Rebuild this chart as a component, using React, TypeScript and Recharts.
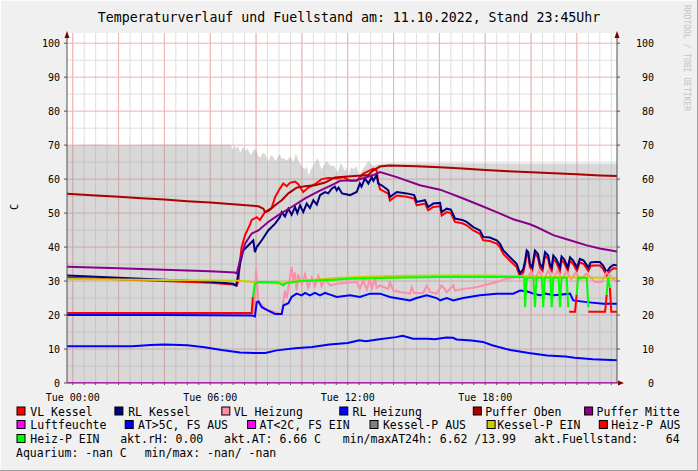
import React from 'react';
import { ComposedChart, Line, Area, XAxis, YAxis, CartesianGrid } from 'recharts';

type P = [number, number | null];

// ---- time axis (hours of the day) ----
const xDomain: [number, number] = [-0.25, 23.75];
const xLabels: Record<number, string> = { 0: 'Tue 00:00', 6: 'Tue 06:00', 12: 'Tue 12:00', 18: 'Tue 18:00' };
const yTicks = [0, 10, 20, 30, 40, 50, 60, 70, 80, 90, 100];
const minorX = Array.from({ length: 48 }, (_, i) => i * 0.5);
const majorX = Array.from({ length: 12 }, (_, i) => i * 2);
const minorY = [5, 15, 25, 35, 45, 55, 65, 75, 85, 95];

// ---- series ----
const fuellstand: P[] = [
  [-0.25, 70.0], [1, 70.2], [2, 70.0], [3, 70.1], [4, 70.2], [5, 70.2], [6, 70.1], [6.9, 70.1], [6.99, 68.6],
  [7.07, 70.0], [7.15, 69.0], [7.23, 69.8], [7.31, 67.6], [7.39, 69.0], [7.47, 69.5], [7.55, 68.2], [7.62, 69.1],
  [7.7, 68.0], [7.78, 67.2], [7.9, 68.8], [8.01, 68.4], [8.09, 67.0], [8.17, 66.2], [8.29, 67.8], [8.41, 67.2],
  [8.49, 66.0], [8.56, 65.3], [8.64, 67.0], [8.72, 66.7], [8.8, 65.8], [8.88, 65.3], [8.96, 66.8], [9.04, 67.2],
  [9.12, 66.0], [9.19, 66.2], [9.35, 65.5], [9.51, 66.7], [9.62, 65.0], [9.74, 67.5], [9.82, 66.0], [9.9, 64.8],
  [10.02, 63.5], [10.14, 62.9], [10.22, 63.8], [10.29, 61.0], [10.37, 62.5], [10.45, 63.4], [10.57, 65.0],
  [10.69, 66.2], [10.77, 64.5], [10.85, 62.9], [10.96, 64.0], [11.08, 65.3], [11.24, 64.0], [11.4, 63.9],
  [11.55, 62.0], [11.71, 64.8], [11.87, 62.4], [11.96, 63.5], [12.0, 61.0], [12.02, 45.0], [12.04, 61.0],
  [12.14, 63.5], [12.26, 62.9], [12.38, 63.8], [12.5, 61.0], [12.65, 63.0], [12.81, 64.3], [12.89, 65.3],
  [13.0, 64.5], [13.12, 63.9], [13.28, 64.3], [13.6, 64.6], [16, 64.7], [20, 64.6], [23.75, 64.6],
];

const vlKessel: P[] = [
  [-0.25, 31.0], [2, 30.5], [4, 30.0], [6, 29.5], [7.0, 29.0], [7.16, 28.6], [7.23, 30], [7.3, 36], [7.37, 40],
  [7.52, 43.5], [7.73, 46.5], [7.81, 48.0], [8.03, 48.8], [8.17, 48.0], [8.39, 50.3], [8.68, 51.5], [8.83, 54.7],
  [9.04, 57.2], [9.19, 58.7], [9.34, 57.9], [9.48, 58.9], [9.7, 59.3], [9.84, 58.5], [10.06, 56.2], [10.28, 57.5],
  [10.57, 58.5], [10.86, 60.0], [11.15, 60.3], [11.52, 60.2], [11.81, 60.6], [12.1, 59.5], [12.39, 59.5], [12.53, 60.6],
  [12.68, 61.6], [12.97, 62.6], [13.12, 63.1], [13.26, 62.6], [13.33, 59.2], [13.41, 57.0], [13.77, 55.7], [13.84, 53.7],
  [14.14, 55.2], [14.57, 54.8], [14.9, 54.3], [15.01, 52.3], [15.37, 52.8], [15.51, 50.8], [15.73, 51.8], [16.03, 52.0],
  [16.1, 49.3], [16.32, 50.3], [16.5, 50.0], [16.68, 47.4], [17.0, 47.0], [17.19, 46.4], [17.48, 44.9], [17.77, 43.9],
  [17.91, 42.0], [18.2, 41.8], [18.5, 41.0], [18.64, 40.0], [18.79, 38.0], [19.08, 36.0], [19.37, 34.1], [19.52, 31.2],
  [19.66, 32.5], [19.74, 35], [19.81, 38], [19.88, 37.5], [19.95, 34.1], [20.05, 33], [20.17, 38], [20.3, 37],
  [20.39, 34], [20.5, 33], [20.61, 37.5], [20.75, 36.5], [20.82, 34], [20.9, 33], [20.97, 36.5], [21.1, 35.5],
  [21.26, 33], [21.33, 36.2], [21.45, 35.3], [21.6, 33], [21.7, 36], [21.84, 35], [22.0, 33], [22.13, 35.5],
  [22.3, 35], [22.5, 33], [22.6, 34.5], [22.8, 34.6], [23.0, 34.6], [23.15, 33.5], [23.3, 31.6], [23.44, 33],
  [23.6, 33.8], [23.75, 33.6],
];

const rlKessel: P[] = [
  [-0.25, 31.6], [2, 31.0], [4, 30.4], [6, 29.8], [7.0, 29.2], [7.12, 28.7], [7.16, 29.7], [7.3, 35.1], [7.44, 39.0],
  [7.73, 41.0], [7.88, 42.0], [7.95, 38.5], [8.03, 40.0], [8.25, 42.0], [8.53, 44.9], [8.83, 46.9], [9.04, 48.8],
  [9.12, 50.3], [9.26, 49.0], [9.41, 51.3], [9.55, 49.5], [9.7, 51.8], [9.8, 50.0], [9.92, 52.3], [10.06, 50.3],
  [10.21, 52.8], [10.35, 51.5], [10.5, 53.8], [10.65, 52.5], [10.79, 55.3], [11.01, 56.2], [11.15, 55.8], [11.3, 57.2],
  [11.44, 57.8], [11.52, 56.7], [11.6, 57.5], [11.75, 55.8], [12.1, 55.3], [12.39, 56.2], [12.53, 58.7], [12.6, 57.8],
  [12.75, 60.2], [12.9, 58.7], [13.05, 60.6], [13.12, 59.5], [13.26, 61.2], [13.33, 58.7], [13.48, 58.2], [13.77, 56.7],
  [13.84, 54.7], [14.14, 56.2], [14.57, 55.8], [14.9, 55.3], [15.01, 53.3], [15.37, 53.8], [15.51, 51.8], [15.73, 52.8],
  [16.03, 53.0], [16.1, 50.3], [16.32, 51.3], [16.5, 51.0], [16.68, 48.4], [17.0, 48.0], [17.19, 47.4], [17.48, 45.9],
  [17.77, 44.9], [17.91, 43.0], [18.2, 42.8], [18.5, 42.0], [18.64, 41.0], [18.79, 39.0], [19.08, 37.0], [19.37, 35.1],
  [19.52, 32.2], [19.66, 33.5], [19.74, 36], [19.81, 39], [19.88, 38.5], [19.95, 35.1], [20.05, 34], [20.17, 39],
  [20.3, 38], [20.39, 35], [20.5, 34], [20.61, 38.5], [20.75, 37.5], [20.82, 35], [20.9, 34], [20.97, 37.5],
  [21.1, 36.5], [21.26, 34], [21.33, 37.2], [21.45, 36.3], [21.6, 34], [21.7, 37], [21.84, 36], [22.0, 34],
  [22.13, 36.5], [22.3, 36], [22.5, 34], [22.6, 35.5], [22.8, 35.6], [23.0, 35.6], [23.15, 34.5], [23.3, 32.6],
  [23.44, 34], [23.6, 34.8], [23.75, 34.6],
];

const vlHeizung: P[] = [
  [-0.25, 20.3], [7.9, 20.3], [7.95, 25], [8.0, 33.6], [8.1, 24.3], [8.39, 21.8], [8.83, 20.8], [9.12, 20.3],
  [9.26, 27.2], [9.34, 25], [9.55, 34.1], [9.62, 30], [9.7, 32.5], [9.77, 27.2], [9.84, 32], [10.0, 29], [10.14, 32],
  [10.28, 28], [10.43, 31], [10.57, 28.5], [10.72, 31.5], [10.86, 28.5], [11.01, 30.5], [11.23, 28.7], [11.52, 29.2],
  [11.95, 29.5], [12.39, 29.7], [12.53, 27.7], [12.68, 30.2], [12.83, 27.5], [12.97, 30.5], [13.05, 27.8],
  [13.19, 30.7], [13.26, 28], [13.41, 28.7], [13.77, 27.7], [13.84, 29.7], [13.99, 27.2], [14.28, 26.8], [14.72, 26.3],
  [14.79, 28.2], [14.9, 26.5], [15.3, 26.5], [15.45, 28.7], [15.6, 26.8], [15.88, 26.3], [16.1, 28.7], [16.25, 27.5],
  [16.32, 26.7], [16.61, 28.7], [16.68, 27.2], [17.04, 27.7], [17.48, 28.0], [17.91, 28.7], [18.5, 29.7], [18.94, 30.7],
  [19.37, 31.2], [19.66, 31.7], [19.81, 30.0], [20.0, 33.0], [20.17, 30.5], [20.35, 33.0], [20.55, 30.5], [20.75, 33.0],
  [20.95, 30.5], [21.15, 33.0], [21.35, 30.5], [21.55, 32.8], [21.75, 30.5], [21.95, 32.5], [22.15, 30.5], [22.43, 32.2],
  [22.79, 29.7], [23.08, 29.7], [23.3, 32.6], [23.5, 31.0], [23.75, 29.7],
];

const rlHeizung: P[] = [
  [-0.25, 20.0], [4, 20.0], [7.8, 19.9], [7.95, 19.6], [8.03, 23.8], [8.1, 24.0], [8.25, 22.3], [8.53, 21.3],
  [8.83, 20.3], [9.12, 20.3], [9.19, 22.8], [9.41, 23.5], [9.55, 25.3], [9.77, 26.3], [9.99, 25.8], [10.14, 26.5],
  [10.35, 25.8], [10.57, 26.5], [10.79, 25.8], [11.01, 26.5], [11.23, 26.0], [11.52, 25.3], [12.1, 25.8],
  [12.53, 25.3], [12.97, 26.3], [13.41, 26.3], [13.84, 25.3], [14.28, 24.8], [14.72, 24.3], [15.0, 25.0],
  [15.45, 25.8], [15.88, 25.0], [16.03, 24.3], [16.32, 25.0], [16.61, 24.3], [17.04, 25.0], [17.77, 25.8],
  [18.5, 26.3], [19.22, 26.3], [19.52, 27.2], [19.81, 27.0], [20.1, 26.3], [20.39, 25.8], [20.61, 26.3],
  [21.0, 25.8], [21.7, 26.3], [21.84, 24.3], [22.43, 23.8], [23.15, 23.3], [23.75, 23.3],
];

const pufferOben: P[] = [
  [-0.25, 55.7], [1, 55.2], [2, 54.8], [3, 54.4], [4, 54.0], [5, 53.5], [6, 53.1], [7, 52.6], [8.1, 52.0],
  [8.32, 51.3], [8.39, 50.3], [8.53, 50.6], [8.83, 52.3], [9.12, 53.8], [9.41, 55.8], [9.77, 57.5], [10.14, 57.9],
  [10.57, 58.2], [11.01, 59.0], [11.44, 60.5], [12.0, 60.8], [12.9, 61.2], [13.1, 62.5], [13.4, 63.7], [13.8, 64.0],
  [15, 63.8], [16, 63.5], [17, 63.1], [18, 62.7], [19, 62.3], [20, 62.0], [21, 61.7], [22, 61.4], [23, 61.1],
  [23.75, 60.9],
];

const pufferMitte: P[] = [
  [-0.25, 34.2], [2, 33.8], [4, 33.3], [6, 32.9], [7.08, 32.5], [7.16, 32.2], [7.3, 36.1], [7.52, 41.0], [7.81, 44.0],
  [8.1, 44.9], [8.53, 47.4], [8.97, 49.4], [9.55, 51.8], [10.14, 54.3], [10.72, 56.4], [11.44, 58.7], [11.66, 59.5],
  [12.39, 59.7], [13.12, 61.2], [13.41, 62.1], [14.14, 60.6], [15.15, 58.2], [16.03, 56.9], [16.46, 55.8],
  [17.04, 54.3], [17.77, 52.3], [18.5, 50.3], [19.22, 48.2], [19.95, 46.7], [20.24, 45.9], [20.97, 43.5],
  [21.7, 42.0], [22.43, 40.5], [23.0, 39.6], [23.75, 38.7],
];

const luftfeuchte: P[] = [[-0.25, 0], [23.75, 0]];

const aussenTemp: P[] = [
  [-0.25, 10.8], [1.5, 10.8], [2.6, 10.8], [3.4, 11.2], [4.0, 11.3], [5, 11.1], [5.75, 10.5], [6.5, 9.7], [7.3, 9.0],
  [7.9, 8.8], [8.4, 8.8], [8.9, 9.6], [9.7, 10.2], [10.45, 10.6], [11.2, 11.3], [12.0, 11.8], [12.5, 12.6],
  [12.8, 12.3], [13.3, 12.8], [14.1, 13.5], [14.4, 13.9], [14.85, 13.0], [15.2, 13.0], [15.5, 13.0], [15.8, 12.9],
  [16.3, 13.4], [16.6, 13.3], [16.75, 12.8], [17.4, 12.5], [17.9, 12.1], [18.3, 11.1], [19.1, 9.7], [19.9, 8.8],
  [20.7, 8.1], [21.5, 7.8], [21.9, 7.4], [22.7, 7.0], [23.75, 6.7],
];

const kesselPEin: P[] = [
  [-0.25, 30.6], [3, 30.4], [6, 30.2], [7.3, 30.1], [7.81, 29.7], [8.5, 29.5], [9.12, 29.2], [9.5, 29.8],
  [10.5, 30.3], [11.44, 30.9], [12.5, 31.2], [14, 31.5], [16, 31.6], [18, 31.6], [19.5, 31.4], [21, 31.2],
  [23.75, 30.9],
];

const heizPAus: P[] = [
  [-0.25, 20.6], [7.81, 20.6], [7.86, 25.3], [7.9, null],
  [21.62, null], [21.66, 21.0], [21.92, 21.0], [21.99, 26.0], [22.02, null],
  [22.43, null], [22.5, 21.0], [23.23, 21.0], [23.3, 26.0], [23.33, null],
  [23.4, null], [23.44, 28.0], [23.5, 21.0], [23.75, 21.0],
];

const heizPEin: P[] = [
  [7.86, 25.3], [7.95, 29.2], [8.1, 29.7], [8.5, 29.7], [9.0, 29.6], [9.19, 28.7], [9.3, 29.4], [9.99, 30.0],
  [11.44, 30.4], [12, 30.7], [14, 31.0], [16, 31.2], [18, 31.2], [19.6, 31.2], [19.7, 31.0], [19.74, 22.3],
  [19.81, 31.0], [20.1, 31.0], [20.17, 22.3], [20.24, 31.0], [20.47, 31.0], [20.53, 22.3], [20.6, 31.0],
  [20.84, 31.0], [20.9, 22.3], [20.97, 31.0], [21.2, 31.0], [21.26, 22.3], [21.33, 31.0], [21.56, 31.0],
  [21.62, 22.3], [21.66, null], [21.99, null], [21.99, 26.0], [22.05, 31.0], [22.43, 31.0], [22.5, 22.3],
  [22.52, null], [23.3, null], [23.3, 26.0], [23.36, 31.0], [23.44, 28.0], [23.46, null],
];

const rows = (pts: P[]) => pts.map(([t, v]) => ({ t, v }));

const FONT = '"DejaVu Sans Mono", monospace';

const legendRows = [
  { y: 415.5, items: [
    { c: '#ff0000', bx: 16.5, tx: 30.3, s: 'VL Kessel' },
    { c: '#000080', bx: 114.4, tx: 128.2, s: 'RL Kessel' },
    { c: '#ff8ca8', bx: 221.3, tx: 233.7, s: 'VL Heizung' },
    { c: '#0000ff', bx: 339.3, tx: 352.6, s: 'RL Heizung' },
    { c: '#aa0000', bx: 472.8, tx: 485.3, s: 'Puffer Oben' },
    { c: '#880088', bx: 584.1, tx: 596.6, s: 'Puffer Mitte' },
  ] },
  { y: 429, items: [
    { c: '#ff00ff', bx: 16.5, tx: 30.3, s: 'Luftfeuchte' },
    { c: '#0000ff', bx: 124.7, tx: 138, s: 'AT>5C, FS AUS' },
    { c: '#ff00ff', bx: 247.1, tx: 259.6, s: 'AT<2C, FS EIN' },
    { c: '#808080', bx: 369.5, tx: 382.9, s: 'Kessel-P AUS' },
    { c: '#cccc00', bx: 486.6, tx: 497.3, s: 'Kessel-P EIN' },
    { c: '#ff0000', bx: 598.8, tx: 611.3, s: 'Heiz-P AUS' },
  ] },
  { y: 443, items: [
    { c: '#00ff00', bx: 16.5, tx: 30.3, s: 'Heiz-P EIN' },
    { c: '', bx: 0, tx: 120.2, s: 'akt.rH: 0.00' },
    { c: '', bx: 0, tx: 224, s: 'akt.AT: 6.66 C' },
    { c: '', bx: 0, tx: 342.8, s: 'min/maxAT24h: 6.62 /13.99' },
    { c: '', bx: 0, tx: 534.3, s: 'akt.Fuellstand:    64' },
  ] },
  { y: 456.5, items: [
    { c: '', bx: 0, tx: 16, s: 'Aquarium: -nan C' },
    { c: '', bx: 0, tx: 144.7, s: 'min/max: -nan/ -nan' },
  ] },
];

const XTick = (props: any) => {
  const { x, payload } = props;
  const lab = xLabels[payload.value];
  if (!lab) return null;
  return (
    <text x={x} y={401} textAnchor="middle" fontFamily={FONT} fontSize={10} fill="#000">{lab}</text>
  );
};

const LTick = (props: any) => {
  const { x, y, payload } = props;
  return (
    <text x={x} y={y + 3.6} textAnchor="end" fontFamily={FONT} fontSize={10} fill="#000">{payload.value}</text>
  );
};

const RTick = (props: any) => {
  const { x, y, payload } = props;
  return (
    <text x={x + 30} y={y + 3.6} textAnchor="end" fontFamily={FONT} fontSize={10} fill="#000">{payload.value}</text>
  );
};

const lineProps = {
  type: 'linear' as const,
  dataKey: 'v',
  dot: false,
  activeDot: false,
  isAnimationActive: false,
  strokeWidth: 2,
  connectNulls: false,
};

export default function App() {
  return (
    <div style={{ position: 'absolute', left: 0, top: 0, width: 698, height: 471, background: '#f0f0f0', overflow: 'hidden' }}>
      <ComposedChart width={698} height={471} margin={{ top: 33, right: 41, bottom: 68, left: 27 }}>
        <CartesianGrid stroke="#dedede" strokeWidth={1} horizontalValues={minorY} verticalValues={minorX} fill="#ffffff" />
        <CartesianGrid stroke="#f2b0b0" strokeWidth={1} horizontalValues={yTicks} verticalValues={majorX} />
        <XAxis type="number" dataKey="t" domain={xDomain} allowDataOverflow ticks={minorX} interval={0}
          tick={XTick} tickLine={{ stroke: '#505050' }} tickSize={2} axisLine={{ stroke: '#505050' }} height={20} />
        <YAxis yAxisId={0} type="number" domain={[0, 103]} allowDataOverflow ticks={yTicks} interval={0}
          tick={LTick} tickSize={3} tickMargin={4} tickLine={{ stroke: '#505050' }} axisLine={{ stroke: '#505050' }} width={40} />
        <YAxis yAxisId="r" orientation="right" type="number" domain={[0, 103]} allowDataOverflow ticks={yTicks} interval={0}
          tick={RTick} tickSize={3} tickMargin={4} tickLine={{ stroke: '#505050' }} axisLine={{ stroke: '#505050' }} width={40} />
        <Area data={rows(fuellstand)} dataKey="v" type="linear" stroke="none" fill="#989898" fillOpacity={0.38}
          isAnimationActive={false} activeDot={false} baseValue={0} />
        <Line {...lineProps} data={rows(vlKessel)} stroke="#ff0000" />
        <Line {...lineProps} data={rows(rlKessel)} stroke="#000080" />
        <Line {...lineProps} data={rows(vlHeizung)} stroke="#ff8ca8" />
        <Line {...lineProps} data={rows(rlHeizung)} stroke="#0000ff" />
        <Line {...lineProps} data={rows(pufferOben)} stroke="#aa0000" />
        <Line {...lineProps} data={rows(pufferMitte)} stroke="#880088" />
        <Line {...lineProps} data={rows(luftfeuchte)} stroke="#ff00ff" />
        <Line {...lineProps} data={rows(aussenTemp)} stroke="#0000ff" />
        <Line {...lineProps} data={rows(kesselPEin)} stroke="#cccc00" />
        <Line {...lineProps} data={rows(heizPAus)} stroke="#ff0000" />
        <Line {...lineProps} data={rows(heizPEin)} stroke="#00ff00" />
      </ComposedChart>
      <svg width={698} height={471} style={{ position: 'absolute', left: 0, top: 0, pointerEvents: 'none' }}>
        <rect x={0.5} y={0.5} width={697} height={470} fill="none" stroke="#fcfcfc" />
        <line x1={697.5} y1={0} x2={697.5} y2={471} stroke="#9e9e9e" />
        <line x1={0} y1={470.5} x2={698} y2={470.5} stroke="#9e9e9e" />
        <text x={349} y={22} textAnchor="middle" fontFamily={FONT} fontSize={13.25} fill="#000">
          Temperaturverlauf und Fuellstand am: 11.10.2022, Stand 23:45Uhr
        </text>
        <text transform="translate(684,5) rotate(90)" fontFamily={FONT} fontSize={8} fill="#c4c4c4">RRDTOOL / TOBI OETIKER</text>
        <text transform="translate(18,207) rotate(-90)" textAnchor="middle" fontFamily={FONT} fontSize={10} fill="#000">C</text>
        <polygon points="64.5,38 69.5,38 67,31" fill="#800000" />
        <polygon points="614.5,38 619.5,38 617,31" fill="#800000" />
        <polygon points="618,380.5 618,385.5 624,383" fill="#800000" />
        {legendRows.map((r, ri) => (
          <g key={ri}>
            {r.items.map((it, ii) => (
              <g key={ii}>
                {it.c && <rect x={it.bx + 0.5} y={r.y - 8.5} width={8} height={8} fill={it.c} stroke="#000" strokeWidth={1} />}
                <text x={it.tx} y={r.y} fontFamily={FONT} fontSize={11.5} fill="#000" style={{ whiteSpace: 'pre' }}>{it.s}</text>
              </g>
            ))}
          </g>
        ))}
      </svg>
    </div>
  );
}
